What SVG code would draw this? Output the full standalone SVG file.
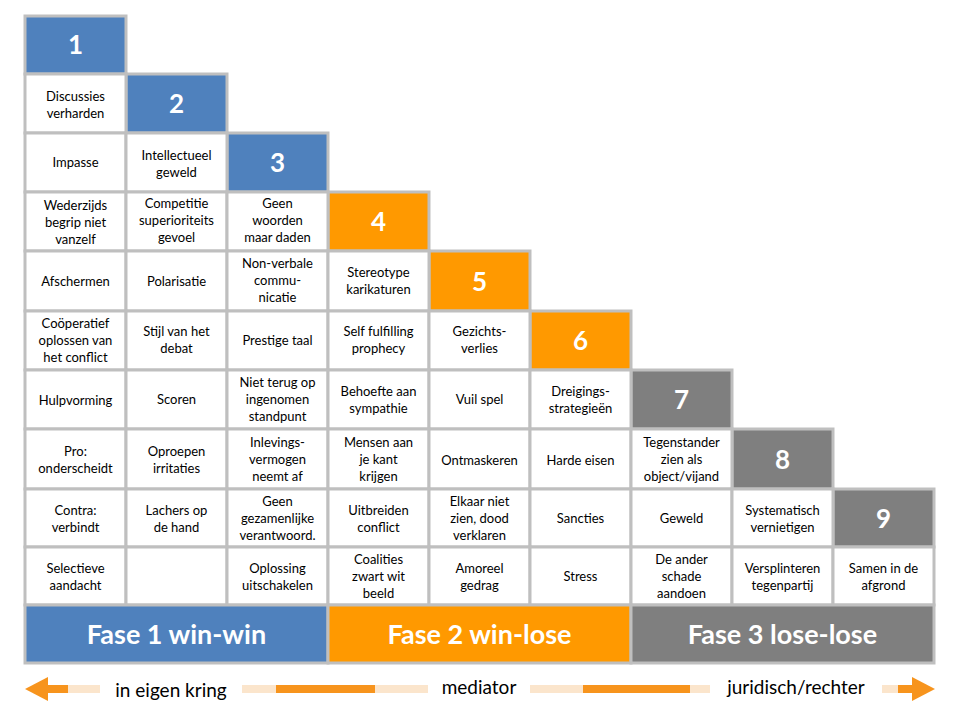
<svg xmlns="http://www.w3.org/2000/svg" width="960" height="720" viewBox="0 0 960 720">
<style>
.c{fill:#fff;stroke:#bfbfbf;stroke-width:3}
.b{fill:#4f81bd;stroke:#bfbfbf;stroke-width:3}
.o{fill:#ff9900;stroke:#bfbfbf;stroke-width:3}
.g{fill:#7f7f7f;stroke:#bfbfbf;stroke-width:3}
text{font-family:Lato,"Open Sans",sans-serif;text-anchor:middle}
.t{font-size:13px;fill:#000}
.n{font-size:26px;font-weight:bold;fill:#fff}
.f{font-size:27px;font-weight:bold;fill:#fff}
.a{font-size:19px;fill:#000}
</style>
<rect width="960" height="720" fill="#fff"/>
<g id="headers">
<rect class="b" x="25" y="16" width="101" height="58"/><text class="n" x="75.5" y="54">1</text>
<rect class="b" x="126" y="74" width="101" height="59"/><text class="n" x="176.5" y="113">2</text>
<rect class="b" x="227" y="133" width="101" height="59"/><text class="n" x="277.5" y="172">3</text>
<rect class="o" x="328" y="192" width="101" height="59"/><text class="n" x="378.5" y="231">4</text>
<rect class="o" x="429" y="251" width="101" height="60"/><text class="n" x="479.5" y="291">5</text>
<rect class="o" x="530" y="311" width="101" height="59"/><text class="n" x="580.5" y="350">6</text>
<rect class="g" x="631" y="370" width="101" height="59"/><text class="n" x="681.5" y="409">7</text>
<rect class="g" x="732" y="429" width="101" height="60"/><text class="n" x="782.5" y="469">8</text>
<rect class="g" x="833" y="489" width="101" height="58"/><text class="n" x="883.5" y="528">9</text>
</g>
<g id="cells" class="t">
<rect class="c" x="25" y="74" width="101" height="59"/><text class="t" x="75.5" y="101">Discussies<tspan x="75.5" dy="17">verharden</tspan></text>
<rect class="c" x="25" y="133" width="101" height="59"/><text class="t" x="75.5" y="167">Impasse</text>
<rect class="c" x="126" y="133" width="101" height="59"/><text class="t" x="176.5" y="160">Intellectueel<tspan x="176.5" dy="17">geweld</tspan></text>
<rect class="c" x="25" y="192" width="101" height="59"/><text class="t" x="75.5" y="210">Wederzijds<tspan x="75.5" dy="17">begrip niet</tspan><tspan x="75.5" dy="17">vanzelf</tspan></text>
<rect class="c" x="126" y="192" width="101" height="59"/><text class="t" x="176.5" y="208">Competitie<tspan x="176.5" dy="17">superioriteits</tspan><tspan x="176.5" dy="17">gevoel</tspan></text>
<rect class="c" x="227" y="192" width="101" height="59"/><text class="t" x="277.5" y="208">Geen<tspan x="277.5" dy="17">woorden</tspan><tspan x="277.5" dy="17">maar daden</tspan></text>
<rect class="c" x="25" y="251" width="101" height="60"/><text class="t" x="75.5" y="286">Afschermen</text>
<rect class="c" x="126" y="251" width="101" height="60"/><text class="t" x="176.5" y="286">Polarisatie</text>
<rect class="c" x="227" y="251" width="101" height="60"/><text class="t" x="277.5" y="268">Non-verbale<tspan x="277.5" dy="17">commu-</tspan><tspan x="277.5" dy="17">nicatie</tspan></text>
<rect class="c" x="328" y="251" width="101" height="60"/><text class="t" x="378.5" y="277">Stereotype<tspan x="378.5" dy="17">karikaturen</tspan></text>
<rect class="c" x="25" y="311" width="101" height="59"/><text class="t" x="75.5" y="328">Coöperatief<tspan x="75.5" dy="17">oplossen van</tspan><tspan x="75.5" dy="17">het conflict</tspan></text>
<rect class="c" x="126" y="311" width="101" height="59"/><text class="t" x="176.5" y="336">Stijl van het<tspan x="176.5" dy="17">debat</tspan></text>
<rect class="c" x="227" y="311" width="101" height="59"/><text class="t" x="277.5" y="345">Prestige taal</text>
<rect class="c" x="328" y="311" width="101" height="59"/><text class="t" x="378.5" y="336">Self fulfilling<tspan x="378.5" dy="17">prophecy</tspan></text>
<rect class="c" x="429" y="311" width="101" height="59"/><text class="t" x="479.5" y="336">Gezichts-<tspan x="479.5" dy="17">verlies</tspan></text>
<rect class="c" x="25" y="370" width="101" height="59"/><text class="t" x="75.5" y="405">Hulpvorming</text>
<rect class="c" x="126" y="370" width="101" height="59"/><text class="t" x="176.5" y="404">Scoren</text>
<rect class="c" x="227" y="370" width="101" height="59"/><text class="t" x="277.5" y="387">Niet terug op<tspan x="277.5" dy="17">ingenomen</tspan><tspan x="277.5" dy="17">standpunt</tspan></text>
<rect class="c" x="328" y="370" width="101" height="59"/><text class="t" x="378.5" y="396">Behoefte aan<tspan x="378.5" dy="17">sympathie</tspan></text>
<rect class="c" x="429" y="370" width="101" height="59"/><text class="t" x="479.5" y="404">Vuil spel</text>
<rect class="c" x="530" y="370" width="101" height="59"/><text class="t" x="580.5" y="396">Dreigings-<tspan x="580.5" dy="17">strategieën</tspan></text>
<rect class="c" x="25" y="429" width="101" height="60"/><text class="t" x="75.5" y="456">Pro:<tspan x="75.5" dy="17">onderscheidt</tspan></text>
<rect class="c" x="126" y="429" width="101" height="60"/><text class="t" x="176.5" y="456">Oproepen<tspan x="176.5" dy="17">irritaties</tspan></text>
<rect class="c" x="227" y="429" width="101" height="60"/><text class="t" x="277.5" y="447">Inlevings-<tspan x="277.5" dy="17">vermogen</tspan><tspan x="277.5" dy="17">neemt af</tspan></text>
<rect class="c" x="328" y="429" width="101" height="60"/><text class="t" x="378.5" y="447">Mensen aan<tspan x="378.5" dy="17">je kant</tspan><tspan x="378.5" dy="17">krijgen</tspan></text>
<rect class="c" x="429" y="429" width="101" height="60"/><text class="t" x="479.5" y="465">Ontmaskeren</text>
<rect class="c" x="530" y="429" width="101" height="60"/><text class="t" x="580.5" y="465">Harde eisen</text>
<rect class="c" x="631" y="429" width="101" height="60"/><text class="t" x="681.5" y="447">Tegenstander<tspan x="681.5" dy="17">zien als</tspan><tspan x="681.5" dy="17">object/vijand</tspan></text>
<rect class="c" x="25" y="489" width="101" height="58"/><text class="t" x="75.5" y="515">Contra:<tspan x="75.5" dy="17">verbindt</tspan></text>
<rect class="c" x="126" y="489" width="101" height="58"/><text class="t" x="176.5" y="515">Lachers op<tspan x="176.5" dy="17">de hand</tspan></text>
<rect class="c" x="227" y="489" width="101" height="58"/><text class="t" x="277.5" y="506">Geen<tspan x="277.5" dy="17">gezamenlijke</tspan><tspan x="277.5" dy="17">verantwoord.</tspan></text>
<rect class="c" x="328" y="489" width="101" height="58"/><text class="t" x="378.5" y="515">Uitbreiden<tspan x="378.5" dy="17">conflict</tspan></text>
<rect class="c" x="429" y="489" width="101" height="58"/><text class="t" x="479.5" y="506">Elkaar niet<tspan x="479.5" dy="17">zien, dood</tspan><tspan x="479.5" dy="17">verklaren</tspan></text>
<rect class="c" x="530" y="489" width="101" height="58"/><text class="t" x="580.5" y="523">Sancties</text>
<rect class="c" x="631" y="489" width="101" height="58"/><text class="t" x="681.5" y="523">Geweld</text>
<rect class="c" x="732" y="489" width="101" height="58"/><text class="t" x="782.5" y="515">Systematisch<tspan x="782.5" dy="17">vernietigen</tspan></text>
<rect class="c" x="25" y="547" width="101" height="58"/><text class="t" x="75.5" y="573">Selectieve<tspan x="75.5" dy="17">aandacht</tspan></text>
<rect class="c" x="126" y="547" width="101" height="58"/>
<rect class="c" x="227" y="547" width="101" height="58"/><text class="t" x="277.5" y="573">Oplossing<tspan x="277.5" dy="17">uitschakelen</tspan></text>
<rect class="c" x="328" y="547" width="101" height="58"/><text class="t" x="378.5" y="564">Coalities<tspan x="378.5" dy="17">zwart wit</tspan><tspan x="378.5" dy="17">beeld</tspan></text>
<rect class="c" x="429" y="547" width="101" height="58"/><text class="t" x="479.5" y="573">Amoreel<tspan x="479.5" dy="17">gedrag</tspan></text>
<rect class="c" x="530" y="547" width="101" height="58"/><text class="t" x="580.5" y="581">Stress</text>
<rect class="c" x="631" y="547" width="101" height="58"/><text class="t" x="681.5" y="564">De ander<tspan x="681.5" dy="17">schade</tspan><tspan x="681.5" dy="17">aandoen</tspan></text>
<rect class="c" x="732" y="547" width="101" height="58"/><text class="t" x="782.5" y="573">Versplinteren<tspan x="782.5" dy="17">tegenpartij</tspan></text>
<rect class="c" x="833" y="547" width="101" height="58"/><text class="t" x="883.5" y="573">Samen in de<tspan x="883.5" dy="17">afgrond</tspan></text>
</g>
<g id="phases">
<rect class="b" x="25" y="605" width="303" height="58"/><text class="f" x="176.5" y="644">Fase 1  win-win</text>
<rect class="o" x="328" y="605" width="303" height="58"/><text class="f" x="479.5" y="644">Fase 2  win-lose</text>
<rect class="g" x="631" y="605" width="303" height="58"/><text class="f" x="782.5" y="644">Fase 3  lose-lose</text>
</g>
<g id="connectors">
<line x1="45" y1="689" x2="915" y2="689" stroke="#fbe5cc" stroke-width="8"/>
<line x1="45" y1="689" x2="68" y2="689" stroke="#f7941d" stroke-width="8"/>
<line x1="276" y1="689" x2="375" y2="689" stroke="#f7941d" stroke-width="8"/>
<line x1="583" y1="689" x2="690" y2="689" stroke="#f7941d" stroke-width="8"/>
<line x1="898" y1="689" x2="915" y2="689" stroke="#f7941d" stroke-width="8"/>
<polygon points="25,689 48,677 48,701" fill="#f7941d"/>
<polygon points="935,689 912,677 912,701" fill="#f7941d"/>
</g>
<g id="labels">
<rect x="100" y="677" width="142" height="24" fill="#fff"/><text class="a" x="171" y="697">in eigen kring</text>
<rect x="428" y="677" width="102" height="22" fill="#fff"/><text class="a" x="479" y="694">mediator</text>
<rect x="710" y="677" width="172" height="22" fill="#fff"/><text class="a" x="796" y="694">juridisch/rechter</text>
</g>
</svg>
